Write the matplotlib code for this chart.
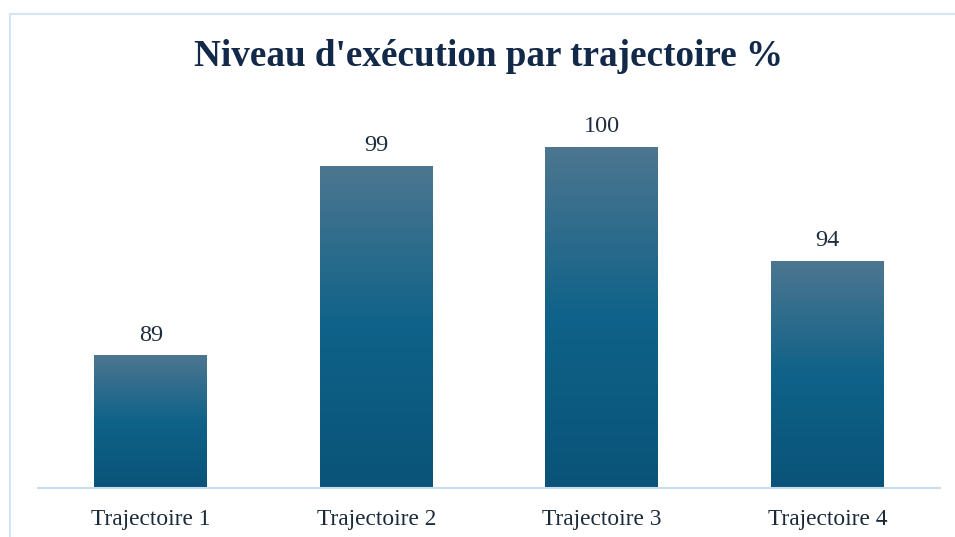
import numpy as np
import matplotlib
matplotlib.use("Agg")
import matplotlib.pyplot as plt
from matplotlib.colors import LinearSegmentedColormap
from matplotlib.patches import Rectangle

categories = ["Trajectoire 1", "Trajectoire 2", "Trajectoire 3", "Trajectoire 4"]
values = [89, 99, 100, 94]
title = "Niveau d'exécution par trajectoire %"

W, H = 955, 537
fig = plt.figure(figsize=(W / 100, H / 100), dpi=100)
plt.rcParams['font.family'] = ['Liberation Serif', 'DejaVu Serif']

# outer frame
fig.patches.append(Rectangle((9.5 / W, -0.1), 1.2, 1 - 13.5 / H + 0.1,
                             transform=fig.transFigure, fill=False,
                             edgecolor="#d5e3f3", linewidth=1.5))

ax = fig.add_axes([38 / W, 1 - 488 / H, (940 - 38) / W, (488 - 110) / H])
ymin, ymax = 82.05, 101.95
ax.set_xlim(-0.5, len(categories) - 0.5)
ax.set_ylim(ymin, ymax)

cmap = LinearSegmentedColormap.from_list(
    "g", [(0.0, "#0a5378"), (0.5, "#0f6289"), (1.0, "#4d7690")])
grad = np.linspace(0, 1, 256).reshape(-1, 1)
bw = 0.5
x = np.arange(len(categories))
bars = ax.bar(x, values, width=bw, bottom=0, color="none", edgecolor="none")
for b, v in zip(bars, values):
    x0 = b.get_x()
    ax.imshow(grad, cmap=cmap, origin="lower", aspect="auto",
              extent=[x0, x0 + bw, ymin, v], zorder=2)
    ax.text(b.get_x() + bw / 2, v + 0.55, str(v), ha="center", va="bottom",
            fontsize=17.5, color="#1f2d3d")
ax.set_xlim(-0.5, len(categories) - 0.5)
ax.set_ylim(ymin, ymax)

for s in ["top", "right", "left"]:
    ax.spines[s].set_visible(False)
ax.spines["bottom"].set_color("#c8dbf0")
ax.spines["bottom"].set_linewidth(1.5)
ax.set_yticks([])
ax.set_xticks(x)
ax.set_xticklabels(categories, fontsize=16.8, color="#1a2a3a")
ax.tick_params(axis="x", length=0, pad=15)

fig.text(488.5 / W, 1 - 56 / H, title, ha="center", va="center",
         fontsize=26.7, fontweight="bold", color="#13294a")

fig.savefig("out.png", dpi=100)
